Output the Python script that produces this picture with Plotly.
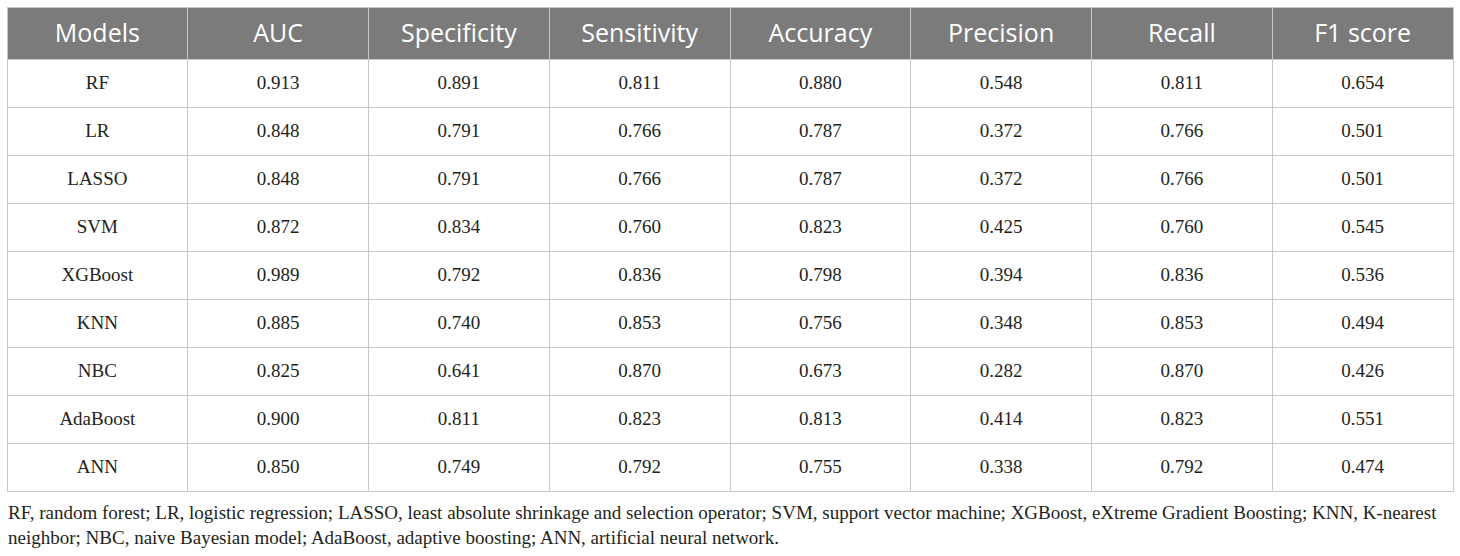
import plotly.graph_objects as go

W, H = 1460, 556

headers = ["Models", "AUC", "Specificity", "Sensitivity", "Accuracy",
           "Precision", "Recall", "F1 score"]
models = ["RF", "LR", "LASSO", "SVM", "XGBoost", "KNN", "NBC", "AdaBoost", "ANN"]
auc = ["0.913", "0.848", "0.848", "0.872", "0.989", "0.885", "0.825", "0.900", "0.850"]
specificity = ["0.891", "0.791", "0.791", "0.834", "0.792", "0.740", "0.641", "0.811", "0.749"]
sensitivity = ["0.811", "0.766", "0.766", "0.760", "0.836", "0.853", "0.870", "0.823", "0.792"]
accuracy = ["0.880", "0.787", "0.787", "0.823", "0.798", "0.756", "0.673", "0.813", "0.755"]
precision = ["0.548", "0.372", "0.372", "0.425", "0.394", "0.348", "0.282", "0.414", "0.338"]
recall = ["0.811", "0.766", "0.766", "0.760", "0.836", "0.853", "0.870", "0.823", "0.792"]
f1_score = ["0.654", "0.501", "0.501", "0.545", "0.536", "0.494", "0.426", "0.551", "0.474"]

footnote = ("RF, random forest; LR, logistic regression; LASSO, least absolute shrinkage and "
            "selection operator; SVM, support vector machine; XGBoost, eXtreme Gradient Boosting; "
            "KNN, K-nearest<br>neighbor; NBC, naive Bayesian model; AdaBoost, adaptive boosting; "
            "ANN, artificial neural network.")

columns = [models, auc, specificity, sensitivity, accuracy, precision, recall, f1_score]
line_col = "#c8c8c8"
clear = "rgba(0,0,0,0)"
text_col = "#231f20"


def table(top_px, head_vals, cell_vals, fills, lines, head_font, cell_font):
    return go.Table(
        domain=dict(x=[7 / W, 1453 / W], y=[0, 1 - top_px / H]),
        columnwidth=[1] * len(headers),
        header=dict(values=head_vals, fill_color=fills[0],
                    line=dict(color=lines, width=1),
                    font=dict(family="Open Sans", size=25, color=head_font),
                    align="center", height=52),
        cells=dict(values=cell_vals, fill_color=fills[1],
                   line=dict(color=lines, width=1),
                   font=dict(family="Liberation Serif", size=19, color=cell_font),
                   align="center", height=48),
    )


# empty grid with the same shape as the data (borders + fills only)
blank_head = [""] * len(headers)
blank_cells = [[""] * len(models) for _ in columns]

fig = go.Figure()
fig.add_trace(table(7, blank_head, blank_cells, ("#7b7b7b", "white"), line_col,
                    "white", text_col))
# text layer, nudged down so labels sit in the middle of each cell
fig.add_trace(table(15, headers, columns, (clear, clear), clear, "white", text_col))

fig.add_annotation(
    text=footnote, xref="paper", yref="paper",
    x=6 / W, y=1 - 500 / H, xanchor="left", yanchor="top",
    align="left", showarrow=False,
    font=dict(family="Liberation Serif", size=19, color=text_col),
)

fig.update_layout(
    width=W, height=H,
    margin=dict(l=0, r=0, t=0, b=0),
    paper_bgcolor="white",
)

fig.write_html("out.html", config={"displayModeBar": False},
               post_script="document.body.style.margin='0';")
